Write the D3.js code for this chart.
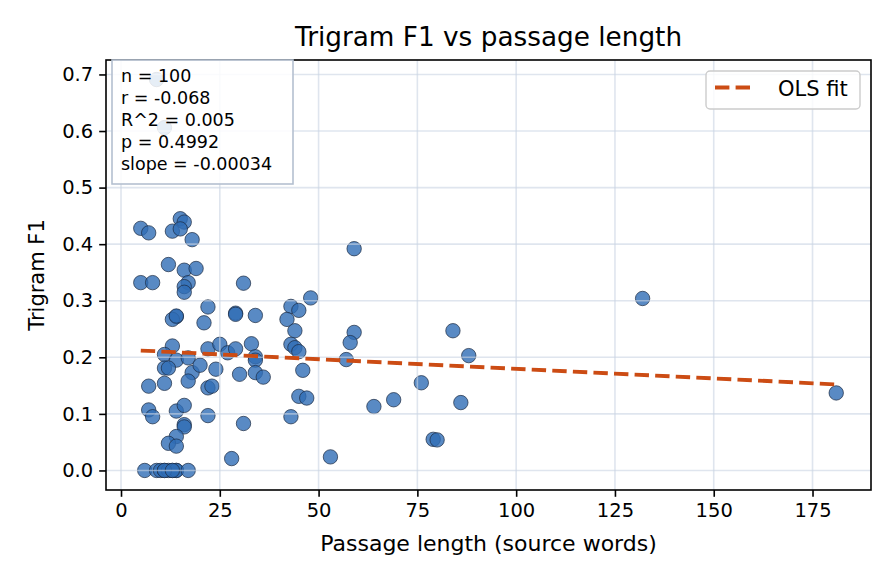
<!DOCTYPE html>
<html>
<head>
<meta charset="utf-8">
<script src="https://cdn.jsdelivr.net/npm/d3@7"></script>
<style>
  body { margin: 0; background: #fff; }
  svg { font-family: "DejaVu Sans", sans-serif; }
</style>
</head>
<body>
<svg width="896" height="584"></svg>
<script>
// passage length (source words) and trigram F1
var lengths = [5, 7, 15, 16, 13, 15, 18, 12, 16, 19,
    5, 8, 17, 16, 16, 22, 14, 13, 21, 29,
    29, 13, 11, 14, 17, 22, 25, 27, 11, 12,
    18, 20, 24, 17, 7, 11, 22, 23, 7, 8,
    14, 16, 22, 16, 16, 14, 12, 14, 28, 6,
    9, 10, 11, 12, 13, 14, 14, 17, 59, 31,
    34, 48, 43, 45, 42, 44, 59, 58, 43, 44,
    45, 29, 33, 34, 34, 57, 30, 34, 36, 46,
    45, 47, 64, 31, 43, 53, 69, 76, 79, 80,
    84, 86, 88, 132, 181, 9, 11, 14, 11, 13];
var f1 = [0.428, 0.420, 0.445, 0.439, 0.423, 0.427, 0.408, 0.364, 0.354, 0.357,
    0.332, 0.332, 0.332, 0.325, 0.315, 0.289, 0.272, 0.267, 0.261, 0.278,
    0.276, 0.220, 0.205, 0.195, 0.199, 0.215, 0.223, 0.208, 0.181, 0.181,
    0.173, 0.186, 0.179, 0.158, 0.149, 0.154, 0.146, 0.149, 0.107, 0.095,
    0.105, 0.115, 0.097, 0.081, 0.077, 0.060, 0.048, 0.043, 0.021, 0.0,
    0.0, 0.0, 0.0, 0.0, 0.0, 0.0, 0.0, 0.0, 0.392, 0.331,
    0.274, 0.305, 0.290, 0.283, 0.267, 0.247, 0.244, 0.226, 0.223, 0.217,
    0.210, 0.215, 0.224, 0.201, 0.195, 0.196, 0.170, 0.173, 0.165, 0.177,
    0.131, 0.128, 0.113, 0.083, 0.095, 0.024, 0.125, 0.155, 0.055, 0.054,
    0.247, 0.120, 0.203, 0.304, 0.137, 0.691, 0.606, 0.273, 0.0, 0.0];

var fitIntercept = 0.2137;
var fitSlope = -0.00034;
var statLines = ["n = 100", "r = -0.068", "R^2 = 0.005", "p = 0.4992", "slope = -0.00034"];
var xTicks = [0, 25, 50, 75, 100, 125, 150, 175];
var yTicks = [0.0, 0.1, 0.2, 0.3, 0.4, 0.5, 0.6, 0.7];

var svg = d3.select("svg");
var margin = {left: 106, right: 25, top: 60, bottom: 94};
var width = 896 - margin.left - margin.right;
var height = 584 - margin.top - margin.bottom;

var points = lengths.map(function(d, i) { return {x: d, y: f1[i]}; });

// matplotlib style 5% margins
var xExt = d3.extent(lengths), yExt = d3.extent(f1);
var xPad = (xExt[1] - xExt[0]) * 0.05, yPad = (yExt[1] - yExt[0]) * 0.05;
var x = d3.scaleLinear().domain([xExt[0] - xPad, xExt[1] + xPad]).range([0, width]);
var y = d3.scaleLinear().domain([yExt[0] - yPad, yExt[1] + yPad]).range([height, 0]);

var g = svg.append("g")
    .attr("transform", "translate(" + margin.left + "," + margin.top + ")");

g.selectAll(".dot")
    .data(points)
    .enter().append("circle")
    .attr("class", "dot")
    .attr("cx", function(d) { return x(d.x); })
    .attr("cy", function(d) { return y(d.y); })
    .attr("r", 7.2)
    .attr("fill", "#2f6db5")
    .attr("fill-opacity", 0.8)
    .attr("stroke", "#1b2a40")
    .attr("stroke-width", 0.7);

// grid sits above the points
g.append("g").selectAll("line")
    .data(xTicks).enter().append("line")
    .attr("x1", function(d) { return x(d); }).attr("x2", function(d) { return x(d); })
    .attr("y1", 0).attr("y2", height)
    .attr("stroke", "#c9d3e2").attr("stroke-opacity", 0.6).attr("stroke-width", 1.6);
g.append("g").selectAll("line")
    .data(yTicks).enter().append("line")
    .attr("y1", function(d) { return y(d); }).attr("y2", function(d) { return y(d); })
    .attr("x1", 0).attr("x2", width)
    .attr("stroke", "#c9d3e2").attr("stroke-opacity", 0.6).attr("stroke-width", 1.6);

// OLS fit
var fitX = d3.extent(lengths);
g.append("line")
    .attr("x1", x(fitX[0])).attr("y1", y(fitIntercept + fitSlope * fitX[0]))
    .attr("x2", x(fitX[1])).attr("y2", y(fitIntercept + fitSlope * fitX[1]))
    .attr("stroke", "#cc4c14")
    .attr("stroke-width", 3.8)
    .attr("stroke-dasharray", "14.4,6.2");

// axes
var xAxis = g.append("g")
    .attr("transform", "translate(0," + height + ")")
    .call(d3.axisBottom(x).tickValues(xTicks).tickSize(6.8).tickPadding(6).tickFormat(d3.format("d")));
var yAxis = g.append("g")
    .call(d3.axisLeft(y).tickValues(yTicks).tickSize(6.8).tickPadding(6).tickFormat(d3.format(".1f")));
[xAxis, yAxis].forEach(function(a) {
    a.select(".domain").remove();
    a.selectAll("line").attr("stroke", "#000").attr("stroke-width", 1.6);
    a.selectAll("text").attr("font-size", 19.5).attr("fill", "#000")
        .attr("font-family", "DejaVu Sans");
});

g.append("rect")
    .attr("width", width).attr("height", height)
    .attr("fill", "none").attr("stroke", "#000").attr("stroke-width", 1.6);

// stats box
var box = g.append("g").attr("transform", "translate(6,0)");
box.append("rect")
    .attr("x", 0).attr("y", 0).attr("width", 181).attr("height", 124)
    .attr("fill", "#fff").attr("fill-opacity", 0.85)
    .attr("stroke", "#b4c0d0").attr("stroke-width", 1.6);
box.selectAll("text")
    .data(statLines).enter().append("text")
    .attr("x", 9)
    .attr("y", function(d, i) { return 22 + i * 21.9; })
    .attr("font-size", 17.5)
    .attr("fill", "#000")
    .text(function(d) { return d; });

// legend
var leg = g.append("g").attr("transform", "translate(" + (width - 165) + ",11)");
leg.append("rect")
    .attr("width", 154).attr("height", 38).attr("rx", 4)
    .attr("fill", "#fff").attr("fill-opacity", 0.8)
    .attr("stroke", "#cccccc").attr("stroke-width", 1.4);
leg.append("line")
    .attr("x1", 9).attr("x2", 48).attr("y1", 16.5).attr("y2", 16.5)
    .attr("stroke", "#cc4c14").attr("stroke-width", 3.8)
    .attr("stroke-dasharray", "14.4,6.2");
leg.append("text")
    .attr("x", 72).attr("y", 24.5)
    .attr("font-size", 21)
    .text("OLS fit");

// titles
svg.append("text")
    .attr("x", margin.left + width / 2).attr("y", 46)
    .attr("text-anchor", "middle")
    .attr("font-size", 26.3)
    .text("Trigram F1 vs passage length");
svg.append("text")
    .attr("x", margin.left + width / 2).attr("y", 551)
    .attr("text-anchor", "middle")
    .attr("font-size", 22)
    .text("Passage length (source words)");
svg.append("text")
    .attr("transform", "translate(44," + (margin.top + height / 2) + ") rotate(-90)")
    .attr("text-anchor", "middle")
    .attr("font-size", 21)
    .text("Trigram F1");
</script>
</body>
</html>
